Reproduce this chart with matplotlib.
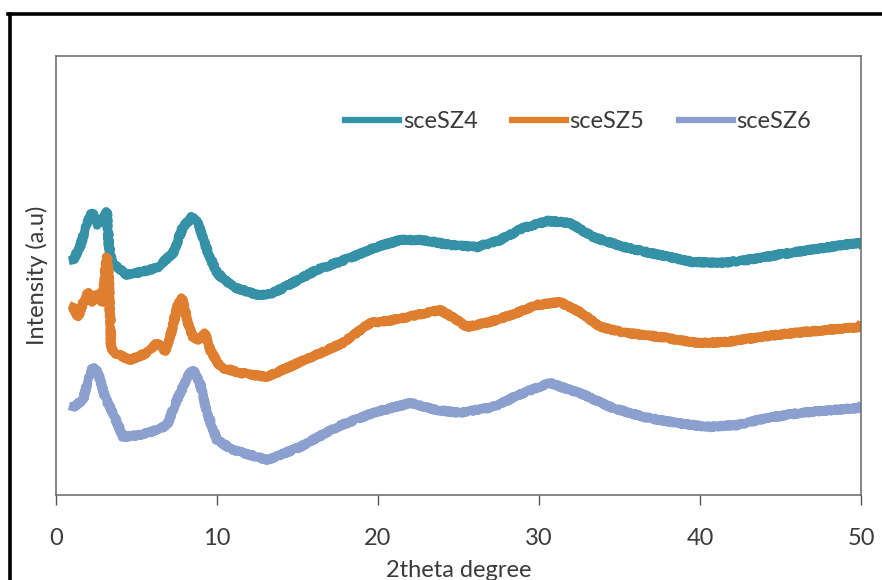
import matplotlib
matplotlib.use("Agg")
import matplotlib.pyplot as plt
from matplotlib.lines import Line2D

plt.rcParams['font.family'] = ['Lato', 'DejaVu Sans']

# values (2theta in degrees, intensity in arbitrary units)
sz4_x = [1.06, 1.49, 1.93, 2.24, 2.61, 2.86, 3.17, 3.29, 3.48, 4.41, 5.22, 6.27,
         7.27, 7.89, 8.45, 8.82, 9.38, 10.0, 11.0, 12.5, 13.29, 14.1, 16.2, 18.26,
         19.94, 21.37, 22.8, 24.47, 26.15, 27.58, 29.0, 30.56, 31.93, 33.35, 35.47,
         37.52, 39.57, 41.24, 42.92, 44.78, 46.83, 48.88, 49.94]
sz4_y = [235, 248, 272, 282, 270, 275, 283, 248, 232, 220, 223, 227,
         242, 268, 278, 272, 245, 222, 208, 200, 201, 207, 225, 237,
         248, 255, 255, 250, 248, 255, 267, 274, 272, 258, 247,
         240, 233, 232, 235, 240, 245, 250, 252]

sz5_x = [1.06, 1.37, 1.68, 1.99, 2.30, 2.61, 2.86, 3.04, 3.17, 3.29, 3.42, 3.66,
         4.60, 5.65, 6.27, 6.58, 6.77, 7.20, 7.52, 7.83, 8.14, 8.51, 8.94, 9.25,
         9.57, 10.19, 11.43, 13.11, 15.16, 17.83, 19.5, 20.93, 22.42, 23.85, 24.91,
         25.53, 26.96, 28.63, 29.88, 31.30, 32.55, 33.79, 35.47, 37.52, 39.81,
         41.68, 43.73, 45.78, 47.89, 49.94]
sz5_y = [188, 178, 192, 203, 193, 202, 192, 222, 238, 215, 148, 142,
         135, 142, 152, 148, 143, 165, 188, 197, 175, 158, 155, 162,
         145, 128, 122, 118, 133, 152, 172, 175, 180, 185, 175,
         168, 173, 182, 190, 193, 183, 168, 162, 158, 152,
         153, 158, 162, 165, 168]

sz6_x = [1.06, 1.68, 1.99, 2.30, 2.61, 3.04, 3.54, 4.16, 5.22, 6.27, 6.89, 7.52,
         8.14, 8.51, 8.94, 9.38, 10.0, 10.99, 12.48, 13.11, 15.16, 17.45, 19.69,
         21.99, 23.66, 25.09, 27.14, 29.0, 30.68, 31.93, 32.55, 34.41, 36.46,
         38.57, 40.62, 42.3, 44.16, 46.21, 48.26, 49.94]
sz6_y = [88, 95, 115, 128, 122, 98, 82, 58, 60, 65, 70, 95,
         118, 125, 112, 82, 55, 45, 38, 35, 48, 68, 82,
         92, 85, 82, 88, 102, 112, 105, 102, 88, 78,
         72, 68, 70, 77, 82, 85, 87]

names = ['sceSZ4', 'sceSZ5', 'sceSZ6']
colors = ['#3591a6', '#e07e30', '#8ba0cf']
xticks = [0, 10, 20, 30, 40, 50]

fig = plt.figure(figsize=(8.82, 5.80), dpi=100)
ax = fig.add_axes([0.0635, 0.1466, 0.9127, 0.7569])

for xs, ys, c, n in zip([sz4_x, sz5_x, sz6_x], [sz4_y, sz5_y, sz6_y], colors, names):
    ln, = ax.plot(xs, ys, color=c, lw=6.2, label=n, solid_joinstyle='round')
    ln.set_sketch_params(scale=1.2, length=2, randomness=2)

ax.set_xlim(0, 50)
ax.set_ylim(0, 439)
ax.set_xticks(xticks)
ax.set_yticks([])
for s in ax.spines.values():
    s.set_color('#666666')
    s.set_linewidth(1.1)
ax.tick_params(axis='x', direction='out', length=7, width=1, color='#555555',
               pad=17, labelsize=17, labelcolor='#3a3a3a')
ax.set_xlabel('2theta degree', fontsize=17, color='#3a3a3a', labelpad=8)
ax.set_ylabel('Intensity (a.u)', fontsize=17, color='#3a3a3a', labelpad=6)

leg = ax.legend(loc='center left', bbox_to_anchor=(345 / 882, 1 - 122 / 580),
                bbox_transform=fig.transFigure, ncol=3, frameon=False,
                fontsize=17, handlelength=2.3, handletextpad=0.15,
                columnspacing=1.45, borderpad=0, borderaxespad=0)
for h in leg.get_lines():
    h.set_linewidth(4.5)
    h.set_sketch_params(None)
for t in leg.get_texts():
    t.set_color('#3a3a3a')

# black border of the outer frame
fig.add_artist(Line2D([8 / 882, 1], [1 - 13.5 / 580] * 2, color='black', lw=2.6,
                      transform=fig.transFigure, solid_capstyle='projecting'))
fig.add_artist(Line2D([9.5 / 882] * 2, [0, 1 - 13.5 / 580], color='black', lw=2.6,
                      transform=fig.transFigure, solid_capstyle='projecting'))

fig.savefig('out.png', dpi=100)
